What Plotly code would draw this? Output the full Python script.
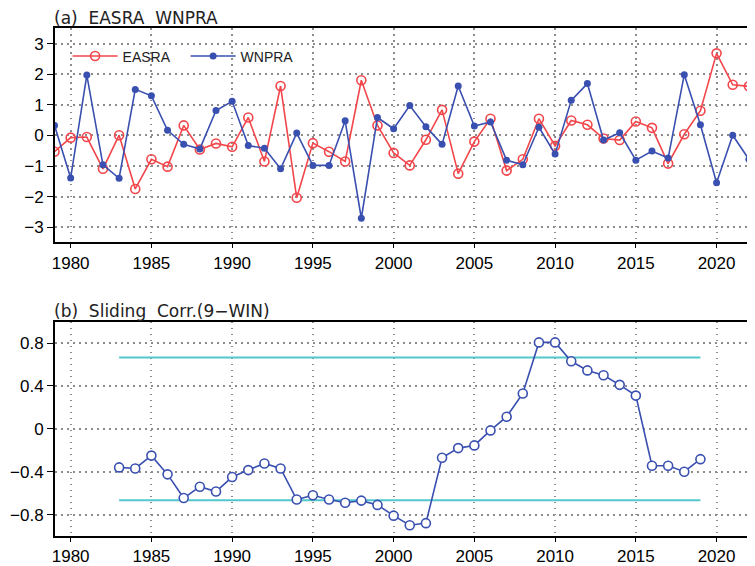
import plotly.graph_objects as go
from plotly.subplots import make_subplots

years = list(range(1979, 2024))
easra = [-0.53, -0.07, -0.05, -1.09, 0.01, -1.75, -0.78, -1.02, 0.33, -0.46,
         -0.26, -0.37, 0.59, -0.85, 1.62, -2.04, -0.25, -0.53, -0.85, 1.81,
         0.33, -0.57, -0.98, -0.14, 0.84, -1.25, -0.20, 0.55, -1.15, -0.78,
         0.55, -0.34, 0.49, 0.35, -0.10, -0.15, 0.46, 0.25, -0.92, 0.04,
         0.81, 2.69, 1.66, 1.61, 2.42]
wnpra = [0.33, -1.39, 1.98, -0.96, -1.40, 1.51, 1.30, 0.17, -0.29, -0.44,
         0.82, 1.12, -0.33, -0.42, -1.09, 0.08, -0.98, -0.98, 0.48, -2.71,
         0.59, 0.22, 0.98, 0.29, -0.29, 1.62, 0.31, 0.44, -0.81, -0.96,
         0.27, -0.61, 1.15, 1.70, -0.15, 0.09, -0.81, -0.51, -0.74, 1.99,
         0.35, -1.55, 0.01, -0.78, 0.24]

corr_years = list(range(1983, 2020))
corr = [-0.36, -0.37, -0.25, -0.425, -0.646, -0.54, -0.585, -0.45, -0.385, -0.323,
        -0.37, -0.66, -0.62, -0.66, -0.69, -0.67, -0.71, -0.81, -0.90, -0.88,
        -0.27, -0.18, -0.155, -0.015, 0.113, 0.33, 0.806, 0.806, 0.63, 0.545,
        0.50, 0.41, 0.31, -0.345, -0.345, -0.40, -0.283]
sig_level = 0.666

xticks = [1980, 1985, 1990, 1995, 2000, 2005, 2010, 2015, 2020]
yticks_a = [-3, -2, -1, 0, 1, 2, 3]
yticks_b = [-0.8, -0.4, 0, 0.4, 0.8]
yticklabels_b = ["−0.8", "−0.4", "0", "0.4", "0.8"]

RED = "#f2464b"
BLUE = "#3a50b0"
CYAN = "#52c8cc"

fig = make_subplots(rows=2, cols=1)

fig.add_trace(go.Scatter(x=years, y=easra, mode="lines+markers", name="EASRA",
                         line=dict(color=RED, width=1.6),
                         marker=dict(symbol="circle-open", size=9, color=RED,
                                     line=dict(width=1.6, color=RED))), row=1, col=1)
fig.add_trace(go.Scatter(x=years, y=wnpra, mode="lines+markers", name="WNPRA",
                         line=dict(color=BLUE, width=1.6),
                         marker=dict(symbol="circle", size=7, color=BLUE)), row=1, col=1)

fig.add_trace(go.Scatter(x=[corr_years[0], corr_years[-1]], y=[sig_level, sig_level],
                         mode="lines", line=dict(color=CYAN, width=2), showlegend=False),
              row=2, col=1)
fig.add_trace(go.Scatter(x=[corr_years[0], corr_years[-1]], y=[-sig_level, -sig_level],
                         mode="lines", line=dict(color=CYAN, width=2), showlegend=False),
              row=2, col=1)
fig.add_trace(go.Scatter(x=corr_years, y=corr, mode="lines+markers", showlegend=False,
                         line=dict(color=BLUE, width=1.6),
                         marker=dict(symbol="circle", size=9, color="white",
                                     line=dict(width=1.6, color=BLUE))), row=2, col=1)

tickfont = dict(family="Liberation Sans, Arial, sans-serif", size=17, color="black")
GRID = dict(showgrid=True, gridcolor="#8c8c8c", griddash="1.5px,4.5px", gridwidth=1.5)
xcommon = dict(range=[1979.03, 2022.38], tickvals=xticks, ticks="outside", ticklen=4,
               tickwidth=1.2, tickcolor="black", showline=True, linecolor="black",
               linewidth=2, mirror=True, zeroline=False, tickfont=tickfont, **GRID)
fig.update_xaxes(**xcommon, row=1, col=1)
fig.update_xaxes(**xcommon, row=2, col=1)

ycommon = dict(ticks="outside", ticklen=6, tickwidth=1.2, tickcolor="black",
               showline=True, linecolor="black", linewidth=2, mirror=False,
               zeroline=False, tickfont=tickfont, **GRID)
fig.update_yaxes(**ycommon, range=[-3.5, 3.52], tickvals=yticks_a,
                 domain=[0.578, 1.0], row=1, col=1)
fig.update_yaxes(**ycommon, range=[-1.0, 1.0], tickvals=yticks_b,
                 ticktext=yticklabels_b, domain=[0.0, 0.422], row=2, col=1)

titlefont = dict(family="DejaVu Sans, sans-serif", size=17, color="#222222")
fig.add_annotation(text="(a)  EASRA  WNPRA", xref="paper", yref="paper", x=0, y=1,
                   xanchor="left", yanchor="bottom", showarrow=False, font=titlefont,
                   xshift=-3, yshift=-2)
fig.add_annotation(text="(b)  Sliding  Corr.(9−WIN)", xref="paper", yref="paper", x=0,
                   y=0.422, xanchor="left", yanchor="bottom", showarrow=False,
                   font=titlefont, xshift=-3, yshift=-1)

# the page body adds an 8px offset; margins compensate so the plot areas
# land where they sit in the reference
fig.update_layout(
    width=747, height=558,
    margin=dict(l=47, r=0, t=20, b=24),
    paper_bgcolor="white", plot_bgcolor="white",
    legend=dict(orientation="h", x=0.018, y=0.944, xanchor="left", yanchor="middle",
                bgcolor="rgba(0,0,0,0)", itemwidth=45, entrywidth=58,
                font=dict(family="Liberation Sans, Arial, sans-serif", size=14,
                          color="#222222")),
)

fig.write_html("out.html")
